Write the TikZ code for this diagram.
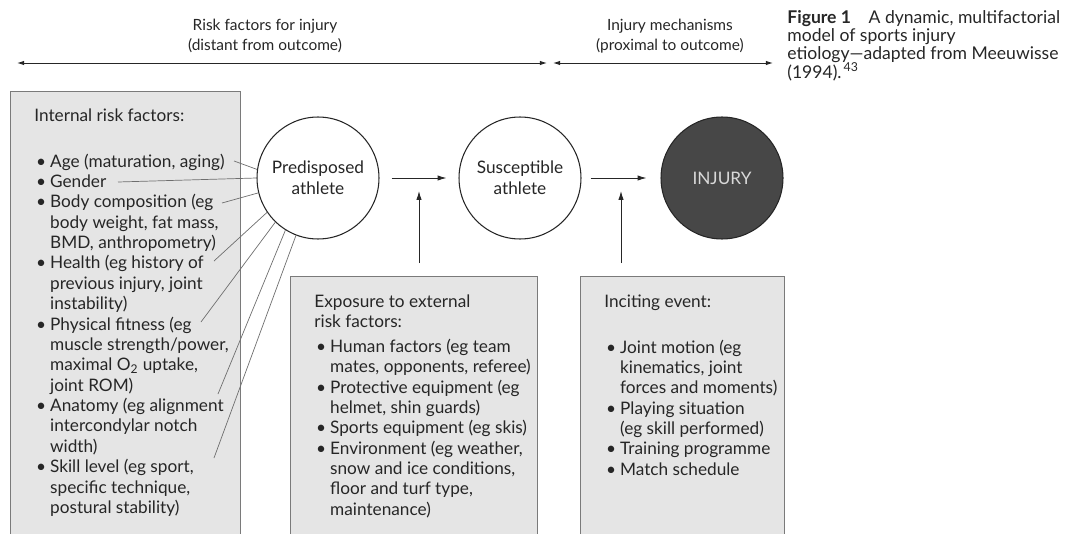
\documentclass[tikz,border=0pt]{standalone}
\usepackage{fontspec}
\setmainfont{Lato}
\usetikzlibrary{arrows.meta,calc,positioning}

\definecolor{boxfill}{HTML}{E5E5E5}
\definecolor{boxedge}{HTML}{7A7A7A}
\definecolor{ink}{HTML}{262626}
\definecolor{injuryfill}{HTML}{474747}
\definecolor{spokegray}{HTML}{6E6E6E}

\newcommand{\bul}{\makebox[9pt][l]{\hspace{1pt}•}}
\newcommand{\tightcaption}{\fontsize{10}{10.4}\selectfont\lineskiplimit=-6pt\relax\lineskip=0pt\relax}

\tikzset{
  factorbox/.style={draw=boxedge,fill=boxfill,line width=0.6pt,inner sep=0pt},
  factortext/.style={inner sep=0pt,text=ink,font=\fontsize{9.8}{11.6}\selectfont},
  athlete/.style={circle,draw=ink,line width=0.6pt,fill=white,minimum size=2.44cm,inner sep=0pt,align=center,text=ink,font=\fontsize{9.8}{11.8}\selectfont},
  spoke/.style={draw=spokegray,line width=0.4pt},
  flow/.style={draw=ink,line width=0.5pt,-{Latex[length=5pt,width=3pt]}},
  span/.style={draw=ink,line width=0.5pt,{Latex[length=4pt,width=2.5pt]}-{Latex[length=4pt,width=2.5pt]}},
  heading/.style={align=center,text=ink,font=\fontsize{8.8}{11.6}\selectfont},
  captiontext/.style={align=left,inner sep=0pt,text=ink,font=\tightcaption},
}

\begin{document}
\begin{tikzpicture}[x=0.02cm,y=-0.02cm]
\useasboundingbox (0,0) rectangle (1073,534);

\coordinate (farleft) at (17,63);
\coordinate (splitL) at (547,63);
\coordinate (splitR) at (553,63);
\coordinate (farright) at (773,63);
\draw[span] (farleft) -- (splitL);
\draw[span] (splitR) -- (farright);
\node[heading] (distal) at (265,36) {Risk factors for injury\\(distant from outcome)};
\node[heading] (proximal) at (670,36) {Injury mechanisms\\(proximal to outcome)};
\node[captiontext,anchor=north west] (caption) at (787,10)
  {\textbf{Figure 1}\quad A dynamic, multifactorial\\model of sports injury\\etiology—adapted from Meeuwisse\\(1994).\textsuperscript{\,43}};

\node[factorbox,anchor=north west,minimum width=4.6cm,minimum height=9.2cm] (internal) at (10,91) {};
\node[factorbox,anchor=north west,minimum width=4.94cm,minimum height=5.4cm] (exposure) at (290,276) {};
\node[factorbox,anchor=north west,minimum width=4.08cm,minimum height=5.4cm] (inciting) at (580,276) {};

\node[factortext,anchor=base west] (internallist) at (34,121) {\begin{tabular}[t]{@{}l@{}l@{}}
\multicolumn{2}{@{}l@{}}{Internal risk factors:}\\[14.6pt]
\bul & Age (maturation, aging)\\
\bul & Gender\\
\bul & Body composition (eg\\
 & body weight, fat mass,\\
 & BMD, anthropometry)\\
\bul & Health (eg history of\\
 & previous injury, joint\\
 & instability)\\
\bul & Physical fitness (eg\\
 & muscle strength/power,\\
 & maximal O\textsubscript{2} uptake,\\
 & joint ROM)\\
\bul & Anatomy (eg alignment\\
 & intercondylar notch\\
 & width)\\
\bul & Skill level (eg sport,\\
 & specific technique,\\
 & postural stability)
\end{tabular}};

\node[factortext,anchor=base west] (exposurelist) at (314,307) {\begin{tabular}[t]{@{}l@{}l@{}}
\multicolumn{2}{@{}l@{}}{Exposure to external}\\
\multicolumn{2}{@{}l@{}}{risk factors:}\\[2.6pt]
\bul & Human factors (eg team\\
 & mates, opponents, referee)\\
\bul & Protective equipment (eg\\
 & helmet, shin guards)\\
\bul & Sports equipment (eg skis)\\
\bul & Environment (eg weather,\\
 & snow and ice conditions,\\
 & floor and turf type,\\
 & maintenance)
\end{tabular}};

\node[factortext,anchor=base west] (incitinglist) at (604,307) {\begin{tabular}[t]{@{}l@{}l@{}}
\multicolumn{2}{@{}l@{}}{Inciting event:}\\[14.6pt]
\bul & Joint motion (eg\\
 & kinematics, joint\\
 & forces and moments)\\
\bul & Playing situation\\
 & (eg skill performed)\\
\bul & Training programme\\
\bul & Match schedule
\end{tabular}};

\node[athlete] (pred) at (318,178) {Predisposed\\athlete};
\node[athlete] (susc) at (520,178) {Susceptible\\athlete};
\node[athlete,fill=injuryfill,text=white!85!black] (injury) at (722,178) {INJURY};

\coordinate (agetip) at (234,161);
\coordinate (gendertip) at (118,182);
\coordinate (bodytip) at (222,203);
\coordinate (healthtip) at (214,261);
\coordinate (fitnesstip) at (201,322);
\coordinate (anatomytip) at (218,394);
\coordinate (skilltip) at (214,458);
\draw[spoke] (agetip) -- (pred.172);
\draw[spoke] (gendertip) -- (pred.180);
\draw[spoke] (bodytip) -- (pred.194);
\draw[spoke] (healthtip) -- (pred.214);
\draw[spoke] (fitnesstip) -- (pred.226);
\draw[spoke] (anatomytip) -- (pred.238);
\draw[spoke] (skilltip) -- (pred.249);

\draw[flow,shorten <=0.24cm,shorten >=0.24cm] (pred) -- (susc);
\draw[flow,shorten <=0.18cm,shorten >=0.28cm] (susc) -- (injury);
\coordinate (meetA) at ($(pred.east)!0.5!(susc.west)$);
\coordinate (meetB) at ($(susc.east)!0.5!(injury.west)$);
\draw[flow,shorten <=0.26cm,shorten >=0.26cm] (meetA |- exposure.north) -- (meetA);
\draw[flow,shorten <=0.26cm,shorten >=0.26cm] (meetB |- inciting.north) -- (meetB);
\end{tikzpicture}
\end{document}
